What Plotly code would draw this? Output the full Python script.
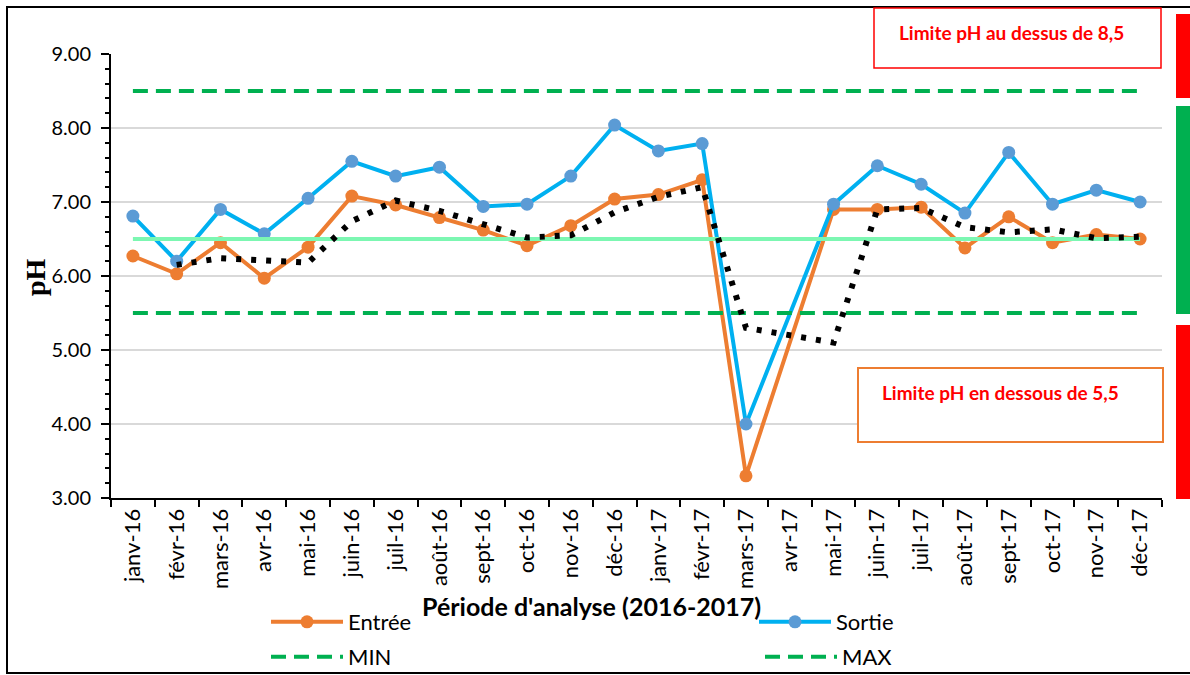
import plotly.graph_objects as go

months = ["janv-16", "févr-16", "mars-16", "avr-16", "mai-16", "juin-16", "juil-16", "août-16",
          "sept-16", "oct-16", "nov-16", "déc-16", "janv-17", "févr-17", "mars-17", "avr-17",
          "mai-17", "juin-17", "juil-17", "août-17", "sept-17", "oct-17", "nov-17", "déc-17"]

entree = [6.27, 6.03, 6.45, 5.97, 6.39, 7.08, 6.96, 6.79, 6.62, 6.41, 6.68, 7.04,
          7.10, 7.30, 3.30, None, 6.90, 6.90, 6.93, 6.38, 6.80, 6.45, 6.56, 6.50]

sortie = [6.81, 6.20, 6.90, 6.57, 7.05, 7.55, 7.35, 7.47, 6.94, 6.97, 7.35, 8.04,
          7.69, 7.79, 4.00, None, 6.97, 7.49, 7.24, 6.85, 7.67, 6.97, 7.16, 7.00]

# moving-average trend (2 periods), starts at févr-16
trend_months = months[1:]
trend = [6.15, 6.24, 6.21, 6.18, 6.74, 7.02, 6.88, 6.71, 6.52, 6.55, 6.86,
         7.07, 7.20, 5.30, None, 5.10, 6.90, 6.92, 6.66, 6.59, 6.63, 6.51, 6.53]

ph_min = [5.5] * len(months)
ph_max = [8.5] * len(months)
ph_ref = [6.5] * len(months)

y_ticks = [3, 4, 5, 6, 7, 8, 9]

# plot area in pixels
L, R, T, B = 111, 1162, 54, 498
W, H = R - L, B - T
def px(x):
    return (x - L) / W
def py(y):
    return (B - y) / H

ORANGE = "#ED7D31"
BLUE_LINE = "#00B0F0"
BLUE_MK = "#5B9BD5"
GREEN = "#00B050"
FONT = "Lato"

fig = go.Figure()
fig.add_trace(go.Scatter(x=months, y=entree, name="Entrée", mode="lines+markers",
                         connectgaps=True, line=dict(color=ORANGE, width=4),
                         marker=dict(color=ORANGE, size=13), legend="legend"))
fig.add_trace(go.Scatter(x=months, y=sortie, name="Sortie", mode="lines+markers",
                         connectgaps=True, line=dict(color=BLUE_LINE, width=4),
                         marker=dict(color=BLUE_MK, size=13), legend="legend2"))
fig.add_trace(go.Scatter(x=months, y=ph_ref, mode="lines", showlegend=False,
                         line=dict(color="#7CF7B2", width=4), hoverinfo="skip"))
fig.add_trace(go.Scatter(x=months, y=ph_min, name="MIN", mode="lines",
                         line=dict(color=GREEN, width=4, dash="15px,8px"), legend="legend3"))
fig.add_trace(go.Scatter(x=months, y=ph_max, name="MAX", mode="lines",
                         line=dict(color=GREEN, width=4, dash="15px,8px"), legend="legend4"))
fig.add_trace(go.Scatter(x=trend_months, y=trend, mode="lines", showlegend=False,
                         connectgaps=True,
                         line=dict(color="black", width=6, dash="5px,10px")))

shapes = [
    # outer frame
    dict(type="rect", xref="paper", yref="paper", x0=px(7), x1=px(1205), y0=py(673), y1=py(7),
         line=dict(color="black", width=2), layer="below"),
    # text boxes
    dict(type="rect", xref="paper", yref="paper", x0=px(874), x1=px(1161), y0=py(68), y1=py(8),
         line=dict(color="#FF0000", width=1.5), fillcolor="white"),
    dict(type="rect", xref="paper", yref="paper", x0=px(858), x1=px(1163), y0=py(442), y1=py(368),
         line=dict(color=ORANGE, width=2), fillcolor="white"),
    # colour bars on the right
    dict(type="rect", xref="paper", yref="paper", x0=px(1176), x1=px(1195), y0=py(98), y1=py(14),
         line=dict(width=0), fillcolor="#FF0000"),
    dict(type="rect", xref="paper", yref="paper", x0=px(1176), x1=px(1195), y0=py(314), y1=py(106),
         line=dict(width=0), fillcolor=GREEN),
    dict(type="rect", xref="paper", yref="paper", x0=px(1176), x1=px(1195), y0=py(499), y1=py(325),
         line=dict(width=0), fillcolor="#FF0000"),
]

def ann(text, x, y, size, family=FONT, color="black", angle=0):
    return dict(text=text, xref="paper", yref="paper", x=px(x), y=py(y), xanchor="center",
                yanchor="middle", textangle=angle, showarrow=False,
                font=dict(family=family, size=size, color=color))

annotations = [
    ann("<b>Limite pH au dessus de 8,5</b>", 1011, 32, 19, color="#FF0000"),
    ann("<b>Limite pH en dessous de 5,5</b>", 1000, 392, 19, color="#FF0000"),
    ann("<b>pH</b>", 35, 277, 28, family="Liberation Serif", angle=-90),
    ann("<b>Période d'analyse (2016-2017)</b>", 591, 606, 25),
]

def leg(x, y):
    return dict(orientation="h", x=px(x), y=py(y), xanchor="left", yanchor="middle",
                font=dict(size=22, family=FONT, color="black"),
                bgcolor="rgba(0,0,0,0)", itemwidth=72)

fig.update_layout(
    width=1190, height=675,
    margin=dict(l=L, r=1190 - R, t=T, b=675 - B, autoexpand=False),
    paper_bgcolor="white", plot_bgcolor="white",
    font=dict(family=FONT, color="black"),
    shapes=shapes, annotations=annotations,
    legend=leg(266, 622), legend2=leg(754, 622),
    legend3=leg(266, 657), legend4=leg(760, 657),
    showlegend=True,
)

fig.update_layout(
    xaxis=dict(type="category", categoryorder="array", categoryarray=months,
               range=[-0.5, len(months) - 0.5], tickson="boundaries",
               ticks="outside", ticklen=7, tickwidth=1.5, tickcolor="black",
               showline=True, linecolor="black", linewidth=2, showgrid=False,
               tickangle=-90, tickfont=dict(family=FONT, size=22, color="black")),
    yaxis=dict(range=[3, 9], tickvals=y_ticks, tickformat=".2f",
               ticks="outside", ticklen=8, tickwidth=2, tickcolor="black",
               showline=True, linecolor="black", linewidth=2,
               showgrid=True, gridcolor="#D9D9D9", gridwidth=1.5, zeroline=False,
               minor=dict(dtick=0.2, ticks="outside", ticklen=4, tickwidth=1.5,
                          tickcolor="black", showgrid=False),
               tickfont=dict(family=FONT, size=20, color="black"), ticklabelstandoff=6),
    # inner halves of the crossing tick marks
    xaxis2=dict(overlaying="x", anchor="y", range=[-0.5, len(months) - 0.5], tick0=-0.5, dtick=1,
                ticks="inside", ticklen=7, tickwidth=1.5, tickcolor="black",
                showticklabels=False, showgrid=False, zeroline=False, showline=False),
    yaxis2=dict(overlaying="y", anchor="x", range=[3, 9], tickvals=y_ticks,
                ticks="inside", ticklen=7, tickwidth=2, tickcolor="black",
                showticklabels=False, showgrid=False, zeroline=False, showline=False),
)

fig.write_html("out.html", config={"displayModeBar": False},
               post_script="document.body.style.margin='0';")
